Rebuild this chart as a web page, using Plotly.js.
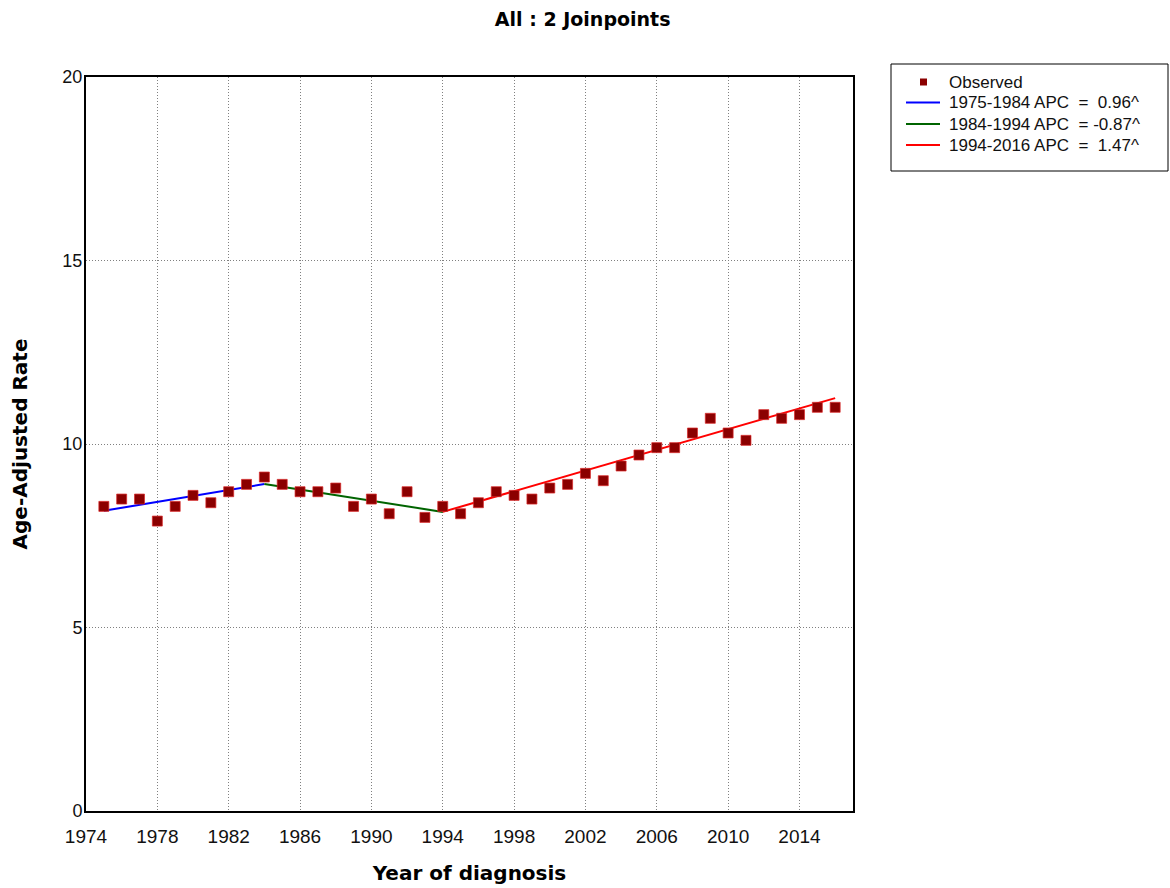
<!DOCTYPE html>
<html>
<head>
<meta charset="utf-8">
<script src="https://cdn.plot.ly/plotly-3.0.1.min.js"></script>
<style>
  html, body { margin: 0; padding: 0; background: #ffffff; }
  #chart { width: 1170px; height: 888px; }
</style>
</head>
<body>
<div id="chart"></div>
<script>
// Observed age-adjusted rates by year of diagnosis
const years = [1975, 1976, 1977, 1978, 1979, 1980, 1981, 1982, 1983, 1984,
               1985, 1986, 1987, 1988, 1989, 1990, 1991, 1992, 1993, 1994,
               1995, 1996, 1997, 1998, 1999, 2000, 2001, 2002, 2003, 2004,
               2005, 2006, 2007, 2008, 2009, 2010, 2011, 2012, 2013, 2014,
               2015, 2016];
const observedRate = [8.3, 8.5, 8.5, 7.9, 8.3, 8.6, 8.4, 8.7, 8.9, 9.1,
                      8.9, 8.7, 8.7, 8.8, 8.3, 8.5, 8.1, 8.7, 8.0, 8.3,
                      8.1, 8.4, 8.7, 8.6, 8.5, 8.8, 8.9, 9.2, 9.0, 9.4,
                      9.7, 9.9, 9.9, 10.3, 10.7, 10.3, 10.1, 10.8, 10.7, 10.8,
                      11.0, 11.0];

// Joinpoint segments: fitted rate at each end and annual percent change
const segStartYear = [1975, 1984, 1994];
const segEndYear = [1984, 1994, 2016];
const segStartFit = [8.18, 8.91, 8.15];
const segEndFit = [8.91, 8.15, 11.25];
const segApc = [0.96, -0.87, 1.47];
const segColors = ['#0000ff', '#006400', '#ff0000'];

const markerColor = '#8b0000';

// plot area in page pixels
const PL = 86, PR = 853, PT = 77, PB = 811;
const W = 1170, H = 888;
const px = x => (x - PL) / (PR - PL);
const py = y => (PB - y) / (PB - PT);

const traces = [];
segStartYear.forEach((s, i) => {
  traces.push({
    type: 'scatter', mode: 'lines',
    x: [s, segEndYear[i]],
    y: [segStartFit[i], segEndFit[i]],
    line: { color: segColors[i], width: 2 },
    showlegend: false, hoverinfo: 'skip'
  });
});
traces.push({
  type: 'scatter', mode: 'markers',
  x: years, y: observedRate,
  marker: { symbol: 'square', size: 10, color: markerColor,
            line: { color: 'rgba(220,40,40,0.7)', width: 1 } },
  showlegend: false
});

// legend box drawn as shapes and annotations
const shapes = [{
  type: 'rect', xref: 'paper', yref: 'paper',
  x0: px(891), x1: px(1168), y0: py(171), y1: py(64),
  line: { color: '#000000', width: 1 }, fillcolor: 'rgba(0,0,0,0)'
}];
const annotations = [];
const rowY = [82, 102.5, 124, 145];
const legFont = { family: 'Liberation Sans, Arial, sans-serif', size: 17, color: '#111111' };

shapes.push({
  type: 'rect', xref: 'paper', yref: 'paper',
  x0: px(920), x1: px(927), y0: py(rowY[0] + 3.5), y1: py(rowY[0] - 3.5),
  line: { width: 0 }, fillcolor: markerColor
});
annotations.push({
  xref: 'paper', yref: 'paper', x: px(947), y: py(rowY[0]),
  xanchor: 'left', yanchor: 'middle', showarrow: false,
  text: 'Observed', font: legFont
});
segStartYear.forEach((s, i) => {
  const yy = rowY[i + 1];
  shapes.push({
    type: 'line', xref: 'paper', yref: 'paper',
    x0: px(906), x1: px(940), y0: py(yy), y1: py(yy),
    line: { color: segColors[i], width: 2 }
  });
  const v = segApc[i];
  const val = (v >= 0 ? '\u00a0\u00a0' : '\u00a0') + v.toFixed(2);
  annotations.push({
    xref: 'paper', yref: 'paper', x: px(947), y: py(yy),
    xanchor: 'left', yanchor: 'middle', showarrow: false,
    text: s + '-' + segEndYear[i] + ' APC\u00a0 =' + val + '^',
    font: legFont
  });
});

const tickFontX = { family: 'Liberation Sans, Arial, sans-serif', size: 19, color: '#111111' };
const tickFontY = { family: 'Liberation Sans, Arial, sans-serif', size: 18, color: '#111111' };
const titleFont = { family: 'DejaVu Sans, Verdana, sans-serif', size: 20, color: '#000000', weight: 'bold' };

const layout = {
  width: W, height: H,
  margin: { l: PL, r: W - PR, t: PT, b: H - PB, pad: 0 },
  paper_bgcolor: '#ffffff', plot_bgcolor: '#ffffff',
  showlegend: false,
  title: {
    text: 'All : 2 Joinpoints',
    font: { family: 'DejaVu Sans, Verdana, sans-serif', size: 19, color: '#000000', weight: 'bold' },
    xref: 'container', yref: 'container', x: 0.498, y: 1 - 19 / H,
    xanchor: 'center', yanchor: 'middle'
  },
  xaxis: {
    range: [1974, 2017], tick0: 1974, dtick: 4,
    showgrid: true, gridcolor: '#808080', gridwidth: 1, griddash: '1px,2px',
    showline: true, mirror: true, linecolor: '#000000', linewidth: 2,
    zeroline: false, ticks: '', ticklabelstandoff: 7,
    tickfont: tickFontX, automargin: false,
    title: { text: 'Year of diagnosis', font: titleFont, standoff: 20 }
  },
  yaxis: {
    range: [0, 20], tick0: 0, dtick: 5,
    showgrid: true, gridcolor: '#808080', gridwidth: 1, griddash: '1px,2px',
    showline: true, mirror: true, linecolor: '#000000', linewidth: 2,
    zeroline: false, ticks: '', ticklabelstandoff: -2,
    tickfont: tickFontY, automargin: false,
    title: { text: 'Age-Adjusted Rate', font: titleFont, standoff: 29 }
  },
  shapes: shapes,
  annotations: annotations
};

Plotly.newPlot('chart', traces, layout, { displayModeBar: false, staticPlot: true });
</script>
</body>
</html>
